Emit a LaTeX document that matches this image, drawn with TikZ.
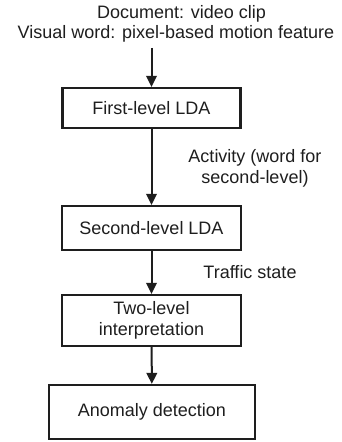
\documentclass[tikz,border=0pt]{standalone}
\usepackage{fontspec}
\setmainfont{Liberation Sans}
\usetikzlibrary{arrows.meta}
\definecolor{ink}{HTML}{1E1E1E}
\begin{document}
\begin{tikzpicture}[x=1pt,y=-1pt,
  every node/.style={font=\fontsize{18}{21}\selectfont, text=ink},
  stage/.style={draw=ink, line width=2.2pt, inner sep=0pt, align=center},
  note/.style={inner sep=0pt, align=center},
  arr/.style={draw=ink, line width=2pt, -{Triangle[width=10.5pt,length=11pt]}}]
  \useasboundingbox (0,0) rectangle (341,442);

  % input description
  \node[note, anchor=south, font=\fontsize{18}{20}\selectfont] (doc) at (176,42.3)
    {\hspace*{11pt}Document: video clip\\Visual word: pixel-based motion feature};

  % processing stages
  \node[stage, minimum width=178pt, minimum height=40pt] (b1) at (151.5,108) {First-level LDA};
  \node[stage, minimum width=179pt, minimum height=44pt] (b2) at (151.5,228) {Second-level LDA};
  \node[stage, minimum width=179pt, minimum height=51pt] (b3) at (151.5,320.5) {Two-level\\interpretation};
  \node[stage, minimum width=206pt, minimum height=54pt] (b4) at (152,412) {Anomaly detection};

  % edge labels
  \node[note] (act) at (255,168) {Activity (word for\\second-level)};
  \node[note] (ts) at (250,272) {Traffic state};

  % connectors
  \path (doc.south -| b1.north) ++(0,5.5) coordinate (docfoot);
  \draw[arr] (docfoot) -- (b1.north);
  \draw[arr] (b1) -- (b2);
  \draw[arr] (b2) -- (b3);
  \draw[arr] (b3) -- (b4);
\end{tikzpicture}
\end{document}
